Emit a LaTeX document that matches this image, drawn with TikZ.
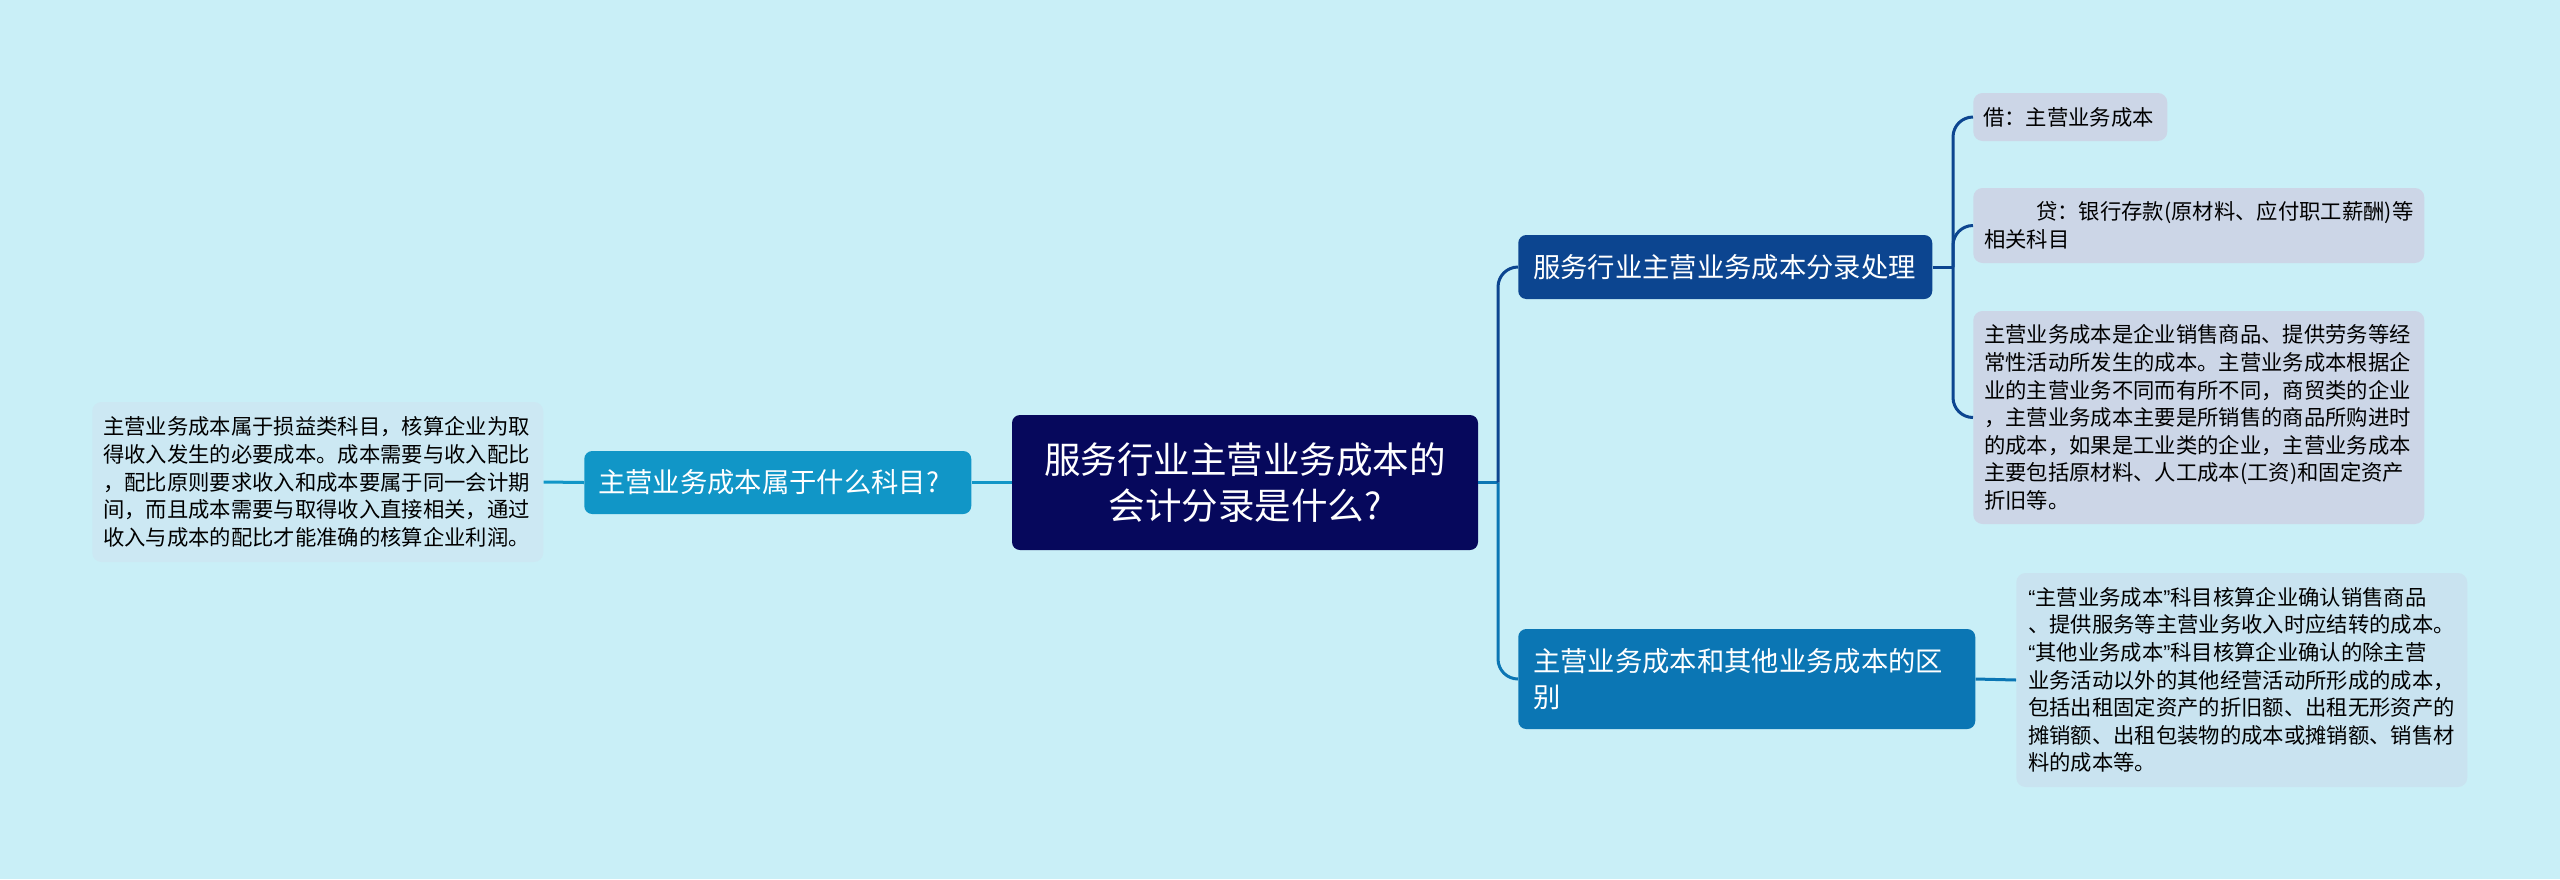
\documentclass[tikz,border=0pt]{standalone}
\usepackage{fontspec}
\setmainfont{Noto Sans CJK SC}
\newfontfamily\latinq{Liberation Sans}
\newcommand{\myoq}{{\latinq “}}
\newcommand{\mycq}{{\latinq ”}}
\definecolor{bg}{RGB}{201,239,247}
\definecolor{cnavy}{RGB}{6,8,92}
\definecolor{cb1}{RGB}{12,69,144}
\definecolor{cb2}{RGB}{11,118,180}
\definecolor{clb}{RGB}{17,150,199}
\definecolor{leafgray}{RGB}{204,214,231}
\definecolor{leafblue}{RGB}{201,227,240}
\definecolor{leafleft}{RGB}{204,232,243}
\tikzset{
  centerbox/.style={fill=cnavy, text=white, rounded corners=6pt, inner sep=0pt,
    align=center, font=\fontsize{27.4pt}{35pt}\selectfont},
  branchbox/.style={text=white, rounded corners=6pt, inner ysep=0pt, align=left,
    font=\fontsize{20.5pt}{27pt}\selectfont, anchor=west},
  leafbox/.style={text=black, rounded corners=7pt, inner ysep=0pt, align=left,
    font=\fontsize{16pt}{20.7pt}\selectfont, anchor=west},
  conn/.style={line width=2.25pt, rounded corners=15pt},
}
\begin{document}
\begin{tikzpicture}[x=0.75pt, y=-0.75pt]
\fill[bg] (0,0) rectangle (2560,879);
\useasboundingbox (0,0) rectangle (2560,879);

% central node
\node[centerbox, minimum width=349.5pt, minimum height=101.25pt, text width=340pt]
  (c) at (1245,482.5) {服务行业主营业务成本的\\会计分录是什么?};

% left branch
\node[branchbox, fill=clb, inner xsep=10.5pt, text width=269.25pt, minimum height=47.25pt]
  (lb) at (584,482.5) {主营业务成本属于什么科目?};
\node[leafbox, fill=leafleft, inner xsep=8.25pt, text width=321.75pt, minimum height=120pt]
  (ll) at (92,482) {主营业务成本属于损益类科目，核算企业为取\\得收入发生的必要成本。成本需要与收入配比\\，配比原则要求收入和成本要属于同一会计期\\间，而且成本需要与取得收入直接相关，通过\\收入与成本的配比才能准确的核算企业利润。};

% right branches
\node[branchbox, fill=cb1, inner xsep=11.25pt, text width=288pt, minimum height=48pt]
  (b1) at (1518,267) {服务行业主营业务成本分录处理};
\node[branchbox, fill=cb2, inner xsep=11.25pt, text width=320.25pt, minimum height=75pt]
  (b2) at (1518,679) {主营业务成本和其他业务成本的区\\别};

% leaves of b1
\node[leafbox, fill=leafgray, inner xsep=7.5pt, text width=130.5pt, minimum height=36pt]
  (l1) at (1973,117) {借：主营业务成本};
\node[leafbox, fill=leafgray, inner xsep=8.25pt, text width=321.75pt, minimum height=56.25pt]
  (l2) at (1973,225.5) {\hspace*{39pt}贷：银行存款(原材料、应付职工薪酬)等\\相关科目};
\node[leafbox, fill=leafgray, inner xsep=8.25pt, text width=321.75pt, minimum height=159.75pt]
  (l3) at (1973,417.5) {主营业务成本是企业销售商品、提供劳务等经\\常性活动所发生的成本。主营业务成本根据企\\业的主营业务不同而有所不同，商贸类的企业\\，主营业务成本主要是所销售的商品所购进时\\的成本，如果是工业类的企业，主营业务成本\\主要包括原材料、人工成本(工资)和固定资产\\折旧等。};

% leaf of b2
\node[leafbox, fill=leafblue, inner xsep=9pt, text width=320.25pt, minimum height=160.5pt]
  (l5) at (2016,680) {\myoq 主营业务成本\mycq 科目核算企业确认销售商品\\、提供服务等主营业务收入时应结转的成本。\\\myoq 其他业务成本\mycq 科目核算企业确认的除主营\\业务活动以外的其他经营活动所形成的成本，\\包括出租固定资产的折旧额、出租无形资产的\\摊销额、出租包装物的成本或摊销额、销售材\\料的成本等。};

% connectors
\coordinate (jr) at (1498,482.5);
\coordinate (j1) at (1953,267);

\draw[conn, clb] (c.west) -- (lb.east);
\draw[conn, clb] (lb.west) -- (ll.east);

\draw[conn, cb2] (c.east) -- (jr);
\draw[conn, cb2] (jr) |- (b2.west);
\draw[conn, cb1] (jr) |- (b1.west);

\draw[conn, cb1] (b1.east) -- (j1);
\draw[conn, cb1] (j1) |- (l1.west);
\draw[conn, cb1] (j1) |- (l2.west);
\draw[conn, cb1] (j1) |- (l3.west);

\draw[conn, cb2] (b2.east) -- (l5.west);
\end{tikzpicture}
\end{document}
